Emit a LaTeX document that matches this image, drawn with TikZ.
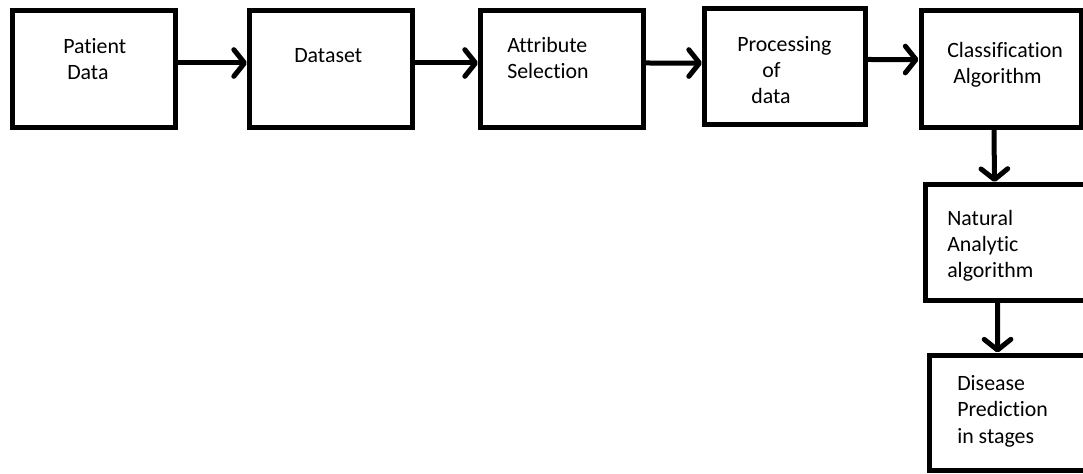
\documentclass[tikz,border=0pt]{standalone}
\usepackage{fontspec}
\setmainfont{Carlito}[Ligatures=NoCommon]
\usetikzlibrary{arrows.meta}

\tikzset{
  blk/.style={draw, line width=3.75pt, inner sep=0pt},
  txt/.style={anchor=base west, inner sep=0pt, align=left, font=\fontsize{16.4}{19.6}\selectfont},
  arr/.style={line width=3.75pt, -{Straight Barb[length=8pt,width=20pt,round]}}
}

\begin{document}
\begin{tikzpicture}[x=0.75pt,y=-0.75pt]
  \useasboundingbox (0,0) rectangle (1083,474);
  \clip (0,0) rectangle (1083,474);
  % box sizes
  \def\bw{122.25pt}
  \def\bh{87.75pt}

  % top row
  \node[blk, minimum width=\bw, minimum height=\bh] (pat) at (94,69) {};
  \node[blk, minimum width=\bw, minimum height=\bh] (dat) at (331,69) {};
  \node[blk, minimum width=\bw, minimum height=\bh] (att) at (562,69) {};
  \node[blk, minimum width=120.75pt, minimum height=87pt] (pro) at (785,66.5) {};
  \node[blk, minimum width=120pt, minimum height=\bh] (cla) at (1001,69) {};
  % right column
  \node[blk, minimum width=131.25pt, minimum height=87pt] (nat) at (1012.5,242.5) {};
  \node[blk, minimum width=127.9pt, minimum height=86.6pt] (dis) at (1014.75,412.75) {};

  % texts (placed at baseline of last line)
  \node[txt] (patT) at (63,80) {Patient\\\hspace*{3pt}Data};
  \node[txt] (datT) at (294,63) {Dataset};
  \node[txt] (attT) at (507,79) {Attribute\\Selection};
  \node[txt] (proT) at (737,104) {Processing\\\hspace*{18.75pt}of\\\hspace*{10.5pt}data};
  \node[txt] (claT) at (947,84) {Classification\\\hspace*{4.5pt}Algorithm};
  \node[txt] (natT) at (947,278) {Natural\\Analytic\\algorithm};
  \node[txt] (disT) at (957,443) {Disease\\Prediction\\in stages};

  % arrows
  \draw[arr] ([yshift=4.5pt]pat.east) -- ([yshift=4.5pt]dat.west);
  \draw[arr] ([yshift=4.5pt]dat.east) -- ([yshift=4.5pt]att.west);
  \draw[arr] ([yshift=4.5pt]att.east) -- ([yshift=2.6pt]pro.west);
  \draw[arr] ([yshift=5.25pt]pro.east) -- ([yshift=7.1pt]cla.west);
  \draw[arr] ([xshift=-5.25pt]cla.south) -- ([xshift=-13.5pt]nat.north);
  \draw[arr] ([xshift=-11.25pt]nat.south) -- ([xshift=-12.9pt]dis.north);
\end{tikzpicture}
\end{document}
